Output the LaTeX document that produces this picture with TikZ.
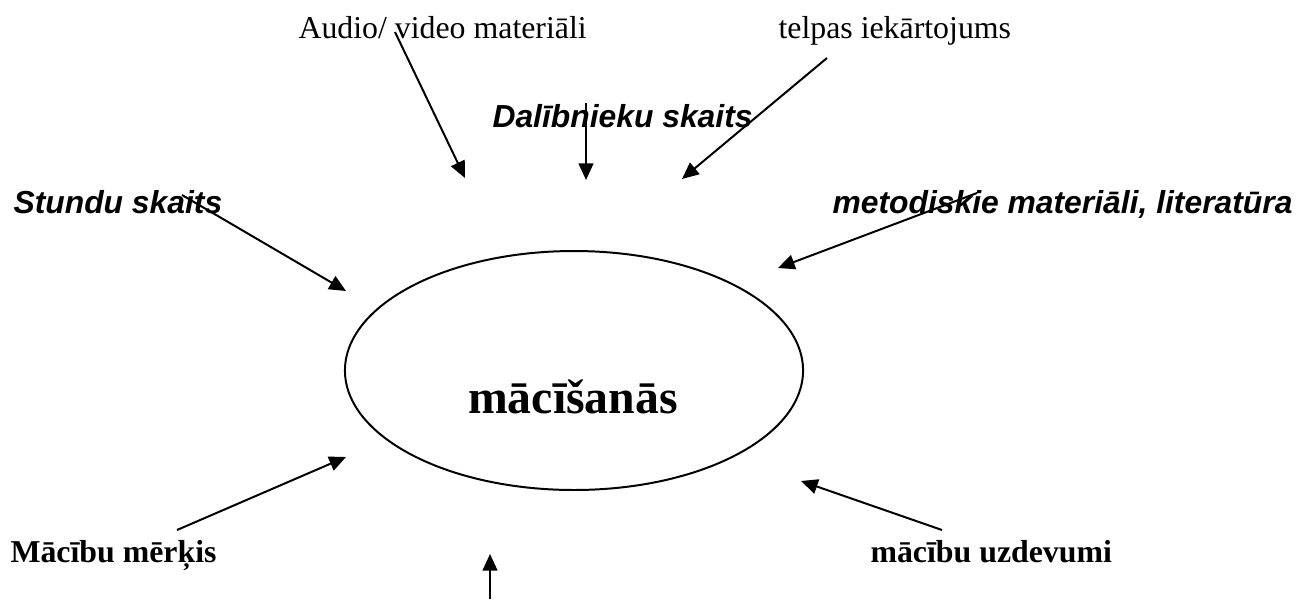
\documentclass[tikz,border=0pt]{standalone}
\usepackage{fontspec}
\setmainfont{Liberation Serif}
\newfontfamily\arialfont{Liberation Sans}
\usetikzlibrary{arrows.meta,shapes.geometric}

\tikzset{
    lbl/.style={inner sep=0pt, anchor=base west, font=\fontsize{12}{14}\selectfont},
    lblb/.style={lbl, font=\fontsize{12}{14}\selectfont\bfseries},
    lbli/.style={lbl, font=\fontsize{12}{14}\selectfont\arialfont\bfseries\itshape},
    arr/.style={line width=0.75pt, -{Triangle[length=6.3pt,width=5.6pt]}}
}

\begin{document}
\begin{tikzpicture}[x=0.377pt, y=-0.377pt]
    \useasboundingbox (0,0) rectangle (1299,599);

    \node[draw, line width=0.75pt, ellipse, minimum width=172.7pt, minimum height=90.1pt,
          inner sep=0pt] (M) at (574,370.5) {};
    \node[inner sep=0pt, anchor=base, font=\fontsize{18}{22}\selectfont\bfseries] (MT) at (573,413) {mācīšanās};

    \node[lbl]  (AV) at (298,38)  {Audio/ video materiāli};
    \node[lbl]  (TI) at (778,38)  {telpas iekārtojums};
    \node[lbli] (DS) at (492,127) {Dalībnieku skaits};
    \node[lbli] (SS) at (13,213)  {Stundu skaits};
    \node[lbli] (ML) at (832,213) {metodiskie materiāli, literatūra};
    \node[lblb] (MM) at (10,562)  {Mācību mērķis};
    \node[lblb] (MU) at (870,562) {mācību uzdevumi};

    \coordinate (AVs) at (395,32);  \coordinate (AVt) at (465,178);
    \coordinate (DSs) at (586,103); \coordinate (DSt) at (586,180);
    \coordinate (TIs) at (827,58);  \coordinate (TIt) at (682,179);
    \coordinate (SSs) at (182,195); \coordinate (SSt) at (346,291);
    \coordinate (MLs) at (977,193); \coordinate (MLt) at (778,268);
    \coordinate (MMs) at (177,530); \coordinate (MMt) at (346,457);
    \coordinate (MUs) at (942,530); \coordinate (MUt) at (801,481);
    \coordinate (Bs)  at (490,599); \coordinate (Bt)  at (490,554);

    \foreach \n in {AV,DS,TI,SS,ML,MM,MU,B}
        \draw[arr] (\n s) -- (\n t);
\end{tikzpicture}
\end{document}
